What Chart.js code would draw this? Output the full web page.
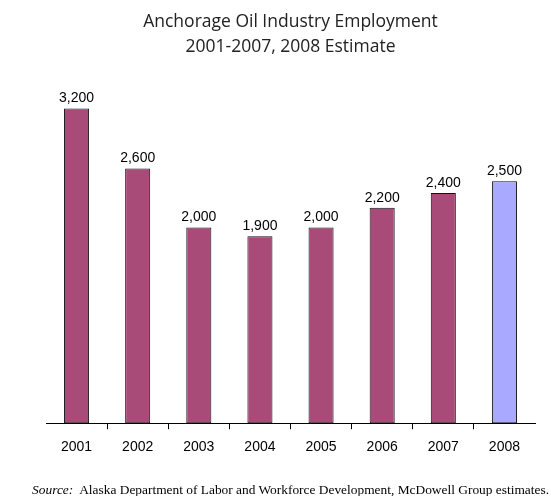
<!DOCTYPE html>
<html>
<head>
<meta charset="utf-8">
<script src="https://cdn.jsdelivr.net/npm/chart.js@4"></script>
<style>
  html, body { margin: 0; padding: 0; background: #fff; overflow: hidden; }
  #wrap { position: relative; width: 551px; height: 496px; overflow: hidden; }
  #source {
    position: absolute; right: 2px; top: 482px; white-space: nowrap;
    font: 13.4px "Liberation Serif", "DejaVu Serif", serif; color: #000;
  }
</style>
</head>
<body>
<div id="wrap">
  <canvas id="chart" width="551" height="496"></canvas>
  <div id="source"><i>Source:</i>&nbsp; Alaska Department of Labor and Workforce Development, McDowell Group estimates.</div>
</div>
<script>
// Empleo en la industria petrolera de Anchorage (2008 es estimación)
const years = ['2001', '2002', '2003', '2004', '2005', '2006', '2007', '2008'];
// Altura de las barras; las etiquetas van redondeadas a centenas.
const employment = [3200, 2590, 1990, 1900, 1990, 2190, 2340, 2460];
const valueText = ['3,200', '2,600', '2,000', '1,900', '2,000', '2,200', '2,400', '2,500'];
const titleLines = ['Anchorage Oil Industry Employment', '2001-2007, 2008 Estimate'];

const ACTUAL = '#A84B78';
const ESTIMATE = '#A9AAFF';

/** Etiqueta con el valor encima de cada barra. */
const valueLabels = {
  id: 'valueLabels',
  afterDatasetsDraw(chart) {
    const { ctx } = chart;
    const meta = chart.getDatasetMeta(0);
    ctx.save();
    ctx.font = '14px "Liberation Sans", Arial, sans-serif';
    ctx.fillStyle = '#000';
    ctx.textAlign = 'center';
    ctx.textBaseline = 'bottom';
    meta.data.forEach((bar, i) => {
      ctx.fillText(valueText[i], bar.x, bar.y - 3);
    });
    ctx.restore();
  },
};

new Chart(document.getElementById('chart'), {
  type: 'bar',
  data: {
    labels: years,
    datasets: [{
      data: employment,
      backgroundColor: years.map((y) => (y === '2008' ? ESTIMATE : ACTUAL)),
      borderColor: '#111',
      borderWidth: 1,
      borderSkipped: false,
      barPercentage: 0.41,
      categoryPercentage: 1,
    }],
  },
  options: {
    responsive: false,
    animation: false,
    layout: { padding: { left: 46, right: 16, top: 4, bottom: 30 } },
    plugins: {
      legend: { display: false },
      tooltip: { enabled: false },
      title: {
        display: true,
        text: titleLines,
        color: '#222',
        font: { family: '"Open Sans", sans-serif', size: 17.5, weight: 'normal', lineHeight: 1.4 },
        padding: { top: 6, bottom: 20 },
      },
    },
    scales: {
      y: { display: false, min: 0, max: 3500 },
      x: {
        border: { color: '#000', width: 1 },
        grid: {
          drawOnChartArea: false,
          tickLength: 6,
          // solo las marcas entre categorías, no en los extremos
          color: (c) => (c.index > 0 && c.index < years.length ? '#000' : 'rgba(0,0,0,0)'),
        },
        ticks: {
          color: '#000',
          padding: 10,
          font: { family: '"Liberation Sans", Arial, sans-serif', size: 14 },
        },
      },
    },
  },
  plugins: [valueLabels],
});
</script>
</body>
</html>
